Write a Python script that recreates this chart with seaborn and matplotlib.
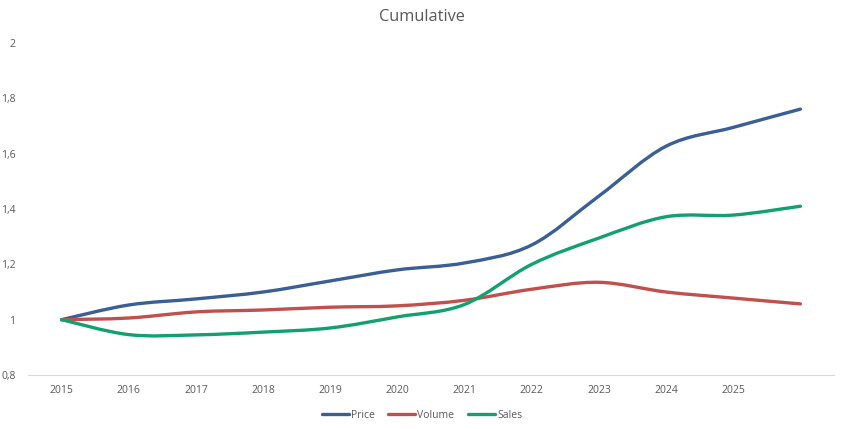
import numpy as np
import pandas as pd
import seaborn as sns
import matplotlib
matplotlib.use("Agg")
import matplotlib.pyplot as plt
from matplotlib.path import Path
from matplotlib.patches import PathPatch
from matplotlib.lines import Line2D

years = ["2015", "2016", "2017", "2018", "2019", "2020", "2021", "2022", "2023", "2024", "2025", ""]
price = [1.0, 1.053, 1.075, 1.10, 1.14, 1.18, 1.205, 1.27, 1.447, 1.627, 1.695, 1.761]
volume = [1.0, 1.006, 1.028, 1.035, 1.045, 1.05, 1.07, 1.11, 1.135, 1.100, 1.078, 1.057]
sales = [1.0, 0.946, 0.945, 0.955, 0.97, 1.01, 1.055, 1.20, 1.295, 1.372, 1.378, 1.41]
series_names = ["Price", "Volume", "Sales"]
colors = ["#3A5F95", "#C0504D", "#13A06F"]

df = pd.DataFrame({"idx": list(range(len(years))) * 3,
                   "value": price + volume + sales,
                   "series": sum([[n] * len(years) for n in series_names], [])})

sns.set_theme(style="white")
plt.rcParams["font.family"] = ["Open Sans", "DejaVu Sans"]

fig = plt.figure(figsize=(8.44, 4.29), dpi=100)
ax = fig.add_axes([28 / 844, 1 - 375 / 429, (834 - 28) / 844, (375 - 43) / 429])

sns.lineplot(data=df, x="idx", y="value", hue="series", palette=colors,
             ax=ax, legend=False, linewidth=2.4)

# Replace straight segments with smooth (Catmull-Rom style) Bezier curves, like Excel's smoothed lines
for line, c in zip(list(ax.lines), colors):
    x, y = line.get_xdata(), line.get_ydata()
    pts = np.column_stack([x, y])
    n = len(pts)
    verts = [pts[0]]
    codes = [Path.MOVETO]
    for i in range(n - 1):
        p0 = pts[i - 1] if i > 0 else pts[i]
        p1 = pts[i]
        p2 = pts[i + 1]
        p3 = pts[i + 2] if i + 2 < n else pts[i + 1]
        c1 = p1 + (p2 - p0) / 6.0
        c2 = p2 - (p3 - p1) / 6.0
        verts += [c1, c2, p2]
        codes += [Path.CURVE4] * 3
    patch = PathPatch(Path(verts, codes), facecolor="none", edgecolor=c,
                      linewidth=2.4, capstyle="round", joinstyle="round")
    ax.add_patch(patch)
    line.set_visible(False)

ax.set_xlim(-0.5, len(years) - 0.5)
ax.set_ylim(0.8, 2.0)
ax.set_xticks(range(len(years)))
ax.set_xticklabels(years)
yt = [0.8, 1.0, 1.2, 1.4, 1.6, 1.8, 2.0]
ax.set_yticks(yt)
ax.set_yticklabels([("%g" % v).replace(".", ",") for v in yt])
ax.tick_params(axis="both", length=0, labelsize=7.5, colors="#595959")
ax.tick_params(axis="y", pad=9)
ax.tick_params(axis="x", pad=7)
ax.set_xlabel("")
ax.set_ylabel("")
for s in ["top", "right", "left"]:
    ax.spines[s].set_visible(False)
ax.spines["bottom"].set_color("#D9D9D9")
ax.spines["bottom"].set_linewidth(0.8)
ax.grid(False)

fig.text(0.5, 1 - 17 / 429, "Cumulative", ha="center", va="center",
         fontsize=11.8, color="#595959")

handles = [Line2D([0], [0], color=c, linewidth=2.4) for c in colors]
fig.legend(handles, series_names, loc="center", bbox_to_anchor=(0.5, 1 - 415 / 429),
           ncol=3, frameon=False, fontsize=7.5, handlelength=2.6, handletextpad=0.2,
           columnspacing=1.3, labelcolor="#595959")

fig.savefig("out.png", dpi=100)
